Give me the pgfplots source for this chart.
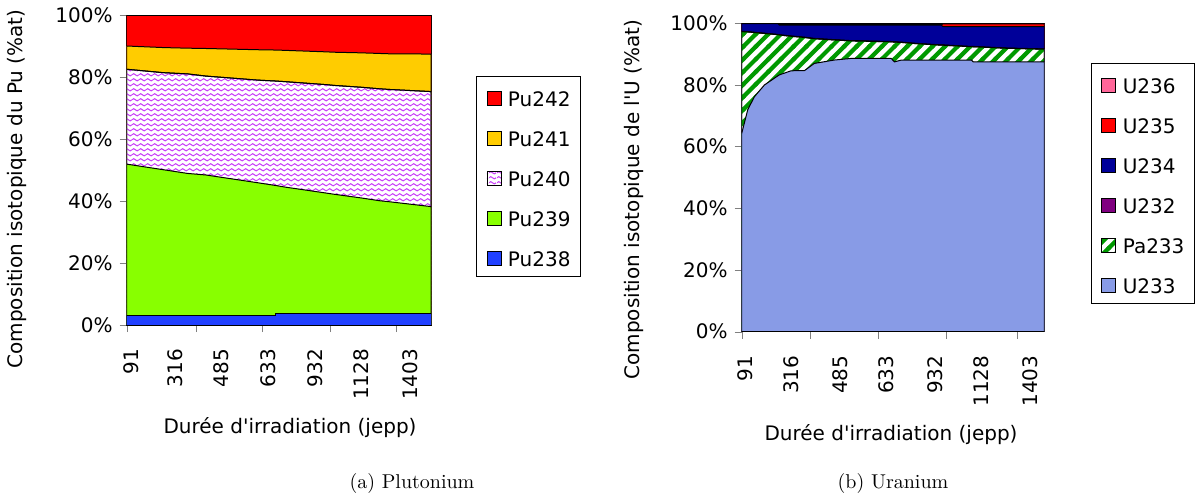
\documentclass[border=0pt]{standalone}
\usepackage{fontspec}
\usepackage{pgfplots}
\pgfplotsset{compat=1.18}
\usepackage{pgfplotstable}
\usetikzlibrary{patterns}
\newfontfamily\chartfont{DejaVu Sans}

\definecolor{pured}{HTML}{FF0000}
\definecolor{puyellow}{HTML}{FFCC00}
\definecolor{puviolet}{HTML}{C840F8}
\definecolor{pugreen}{HTML}{88FF00}
\definecolor{publue}{HTML}{2040FF}
\definecolor{upink}{HTML}{FF6699}
\definecolor{ured}{HTML}{FF0000}
\definecolor{udarkblue}{HTML}{000099}
\definecolor{upurple}{HTML}{800080}
\definecolor{pagreen}{HTML}{009900}
\definecolor{ulight}{HTML}{889BE6}

% wavy lines for Pu240
\pgfdeclarepatternformonly{puwave}{\pgfpointorigin}{\pgfpoint{3.7pt}{2.35pt}}{\pgfpoint{3.7pt}{2.35pt}}{%
  \pgfsetlinewidth{0.55pt}%
  \pgfpathmoveto{\pgfpoint{0pt}{1.17pt}}%
  \pgfpathcurveto{\pgfpoint{0.6pt}{1.95pt}}{\pgfpoint{1.25pt}{1.95pt}}{\pgfpoint{1.85pt}{1.17pt}}%
  \pgfpathcurveto{\pgfpoint{2.45pt}{0.4pt}}{\pgfpoint{3.1pt}{0.4pt}}{\pgfpoint{3.7pt}{1.17pt}}%
  \pgfusepath{stroke}}
% thick diagonal stripes for Pa233
\pgfdeclarepatternformonly{pastripe}{\pgfpoint{-1.5pt}{-1.5pt}}{\pgfpoint{7.8pt}{7.8pt}}{\pgfpoint{6.3pt}{6.3pt}}{%
  \pgfsetlinewidth{2.1pt}%
  \pgfpathmoveto{\pgfpoint{-0.5pt}{-0.5pt}}%
  \pgfpathlineto{\pgfpoint{6.8pt}{6.8pt}}%
  \pgfusepath{stroke}}

% cumulative composition (%), x = position along the time axis (0-100)
\pgfplotstableread{
x   c238 c239 c240 c241 c242
0   3.0  51.9 82.5 90.0 100
12  3.0  50.1 81.4 89.5 100
20  3.0  48.9 81.0 89.3 100
26  3.0  48.4 80.3 89.2 100
43  3.0  45.9 79.0 88.8 100
49  3.0  45.0 78.7 88.7 100
49  3.6  45.0 78.7 88.7 100
52  3.6  44.5 78.5 88.6 100
66  3.6  42.5 77.5 88.1 100
68  3.6  42.2 77.3 88.0 100
77  3.6  41.0 76.7 87.8 100
83  3.6  40.1 76.2 87.6 100
86  3.6  39.8 76.0 87.5 100
100 3.6  38.2 75.3 87.4 100
}\putable

\pgfplotstableread{
x    u233 pa233 u232 u234 u235 u236
0    64.3 97.3  97.4 99.9 99.9 100
2    72.0 97.2  97.3 99.9 99.9 100
4.2  76.2 97.0  97.1 99.9 99.9 100
7.5  80.0 96.7  96.8 99.9 99.9 100
12   83.0 96.3  96.4 99.9 99.9 100
12.5 83.3 96.2  96.3 99.4 99.6 100
16.3 84.6 95.8  95.9 99.4 99.6 100
20.8 84.7 95.4  95.5 99.4 99.6 100
24   87.0 95.0  95.1 99.4 99.6 100
30.7 88.1 94.6  94.7 99.4 99.6 100
36   88.6 94.3  94.4 99.4 99.6 100
49.4 88.6 94.0  94.1 99.4 99.6 100
50.5 87.5 93.9  94.0 99.4 99.6 100
52.8 88.1 93.8  93.9 99.4 99.6 100
57.7 88.1 93.4  93.5 99.4 99.6 100
66   88.1 92.9  93.0 99.4 99.6 100
66.5 88.1 92.9  93.0 98.9 99.8 100
75.9 88.1 92.4  92.5 98.9 99.8 100
76.5 87.5 92.4  92.5 98.9 99.8 100
87.5 87.5 91.9  92.0 98.9 99.8 100
100  87.5 91.6  91.7 98.9 99.8 100
}\utable

\pgfplotsset{
  compo/.style={
    scale only axis,
    xmin=0, xmax=100, ymin=0, ymax=100,
    ytick={0,20,...,100},
    yticklabels={0\%,20\%,40\%,60\%,80\%,100\%},
    tick align=outside, tick pos=left,
    major tick length=3.5pt,
    xticklabels={},
    extra x tick labels={91,316,485,633,932,1128,1403},
    extra x tick style={major tick length=0pt,
      xticklabel style={yshift=-8.5pt, rotate=90, anchor=east}},
    axis line style={line width=0.5pt},
    every axis plot/.append style={draw=black, line width=0.5pt},
    legend cell align=left,
    legend style={draw=black, line width=0.5pt, inner xsep=5pt, inner ysep=0pt,
      column sep=3.3pt,
      nodes={inner sep=0pt, text height=15pt, text depth=5pt}},
    legend image code/.code={\draw[#1, draw=black, line width=0.4pt] (0pt,-4.4pt) rectangle (7pt,2.6pt);},
  }
}

\begin{document}
\begin{tikzpicture}[font=\chartfont]
\useasboundingbox (0,0) rectangle (599pt,-250pt);

\begin{axis}[compo,
  at={(63.35pt,-162.5pt)}, anchor=south west,
  width=152.15pt, height=155pt,
  xtick={0,22.7,44.6,67,88.7},
  extra x ticks={1.6,15.9,31.2,46.5,61.9,77.2,93.1},
  legend style={at={(1.148,0.803)}, anchor=north west}]
\addplot[fill=pured] table[x=x, y=c242] {\putable} \closedcycle;
\addplot[fill=puyellow] table[x=x, y=c241] {\putable} \closedcycle;
\addplot[fill=white, postaction={pattern=puwave, pattern color=puviolet}] table[x=x, y=c240] {\putable} \closedcycle;
\addplot[fill=pugreen] table[x=x, y=c239] {\putable} \closedcycle;
\addplot[fill=publue] table[x=x, y=c238] {\putable} \closedcycle;
\legend{Pu242,Pu241,Pu240,Pu239,Pu238}
\end{axis}

\begin{axis}[compo,
  at={(370.85pt,-165.85pt)}, anchor=south west,
  width=151.3pt, height=154.2pt,
  xtick={0,22.5,45.1,67.6,91.0},
  extra x ticks={1.1,16.2,32.4,47.8,63.9,79.3,95.5},
  legend style={at={(1.154,0.871)}, anchor=north west}]
\addplot[fill=upink] table[x=x, y=u236] {\utable} \closedcycle;
\addplot[fill=ured] table[x=x, y=u235] {\utable} \closedcycle;
\addplot[fill=udarkblue] table[x=x, y=u234] {\utable} \closedcycle;
\addplot[fill=upurple] table[x=x, y=u232] {\utable} \closedcycle;
\addplot[fill=white, postaction={pattern=pastripe, pattern color=pagreen}] table[x=x, y=pa233] {\utable} \closedcycle;
\addplot[fill=ulight] table[x=x, y=u233] {\utable} \closedcycle;
\legend{U236,U235,U234,U232,Pa233,U233}
\end{axis}

\node[rotate=90] at (8.5pt,-94.5pt) {Composition isotopique du Pu (\%at)};
\node[rotate=90] at (317pt,-99.75pt) {Composition isotopique de l'U (\%at)};
\node at (145pt,-214pt) {Durée d'irradiation (jepp)};
\node at (445.5pt,-217.5pt) {Durée d'irradiation (jepp)};
\node[font=\normalfont] at (206pt,-241.5pt) {(a) Plutonium};
\node[font=\normalfont] at (446.5pt,-241.5pt) {(b) Uranium};
\end{tikzpicture}
\end{document}
